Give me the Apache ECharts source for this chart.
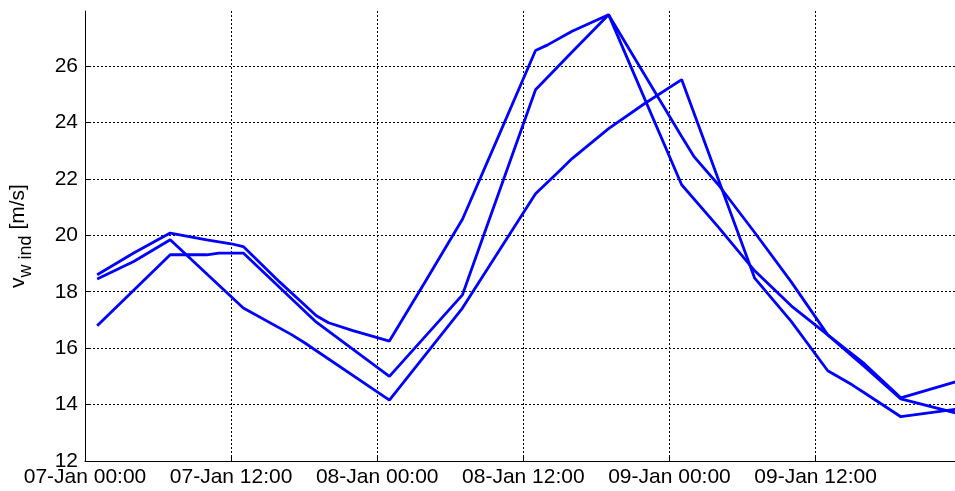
<!DOCTYPE html>
<html><head><meta charset="utf-8">
<script src="https://cdn.jsdelivr.net/npm/echarts@6/dist/echarts.min.js"></script>
<style>html,body{margin:0;padding:0;background:#fff}#c{width:955px;height:491px}</style>
</head><body><div id="c"></div>
<script>
// x values are hours after 07-Jan 00:00
const tickLabels = ['07-Jan 00:00','07-Jan 12:00','08-Jan 00:00','08-Jan 12:00','09-Jan 00:00','09-Jan 12:00','10-Jan 00:00'];

const hoursA = [1, 4, 7, 10, 12, 13, 16, 19, 20, 22, 25, 28, 31, 34, 37, 38, 40, 43, 46, 49, 52, 55, 58, 61, 64, 67, 72];
const windA  = [18.6, 19.37, 20.08, 19.84, 19.7, 19.6, 18.34, 17.15, 16.9, 16.62, 16.25, 18.4, 20.57, 23.55, 26.55, 26.75, 27.23, 27.82, 24.8, 21.79, 20.3, 18.74, 17.5, 16.47, 15.45, 14.24, 14.87];

const hoursB = [1, 4, 7, 13, 17, 18, 25, 31, 37, 39, 40, 43, 46, 49, 55, 58, 61, 62, 63, 64, 67, 72];
const windB  = [18.45, 19.07, 19.84, 17.42, 16.47, 16.2, 14.16, 17.42, 21.47, 22.3, 22.72, 23.78, 24.68, 25.52, 18.48, 16.95, 15.2, 14.95, 14.7, 14.42, 13.57, 13.86];

const hoursC = [1, 4, 7, 10, 11, 13, 19, 25, 31, 37, 40, 43, 49, 50, 52, 55, 58, 61, 64, 67, 72];
const windC  = [16.79, 18.05, 19.31, 19.31, 19.37, 19.37, 16.92, 15.0, 17.89, 25.16, 26.5, 27.82, 23.5, 22.8, 21.8, 20.1, 18.35, 16.47, 15.35, 14.2, 13.65];

function pairs(h, v) { return h.map((x, i) => [x, v[i]]); }

const chart = echarts.init(document.getElementById('c'), null, {renderer: 'canvas'});
const font = 'Liberation Sans, Arial, sans-serif';
const gridLine = {show: true, showMinLine: false, showMaxLine: false, lineStyle: {color: '#000', type: [2, 2], width: 1}};
const lineStyle = {color: '#0000ff', width: 2.8};
function mk(h, v) {
  return {type: 'line', data: pairs(h, v), showSymbol: false, symbol: 'none', lineStyle: lineStyle, itemStyle: {color: '#0000ff'}, clip: true};
}
chart.setOption({
  animation: false,
  backgroundColor: '#fff',
  grid: {left: 85, right: 0, top: 11, bottom: 30, containLabel: false},
  xAxis: {
    type: 'value', min: 0, max: 71.45, interval: 12,
    axisLine: {show: true, onZero: false, lineStyle: {color: '#000', width: 1}},
    axisTick: {show: true, inside: true, length: 5, lineStyle: {color: '#000'}},
    axisLabel: {showMaxLabel: false, color: '#000', fontFamily: font, fontSize: 21, margin: 6,
      formatter: v => (v % 12 === 0 ? tickLabels[v / 12] : '')},
    splitLine: gridLine
  },
  yAxis: {
    type: 'value', min: 12, max: 27.95, interval: 2,
    axisLine: {show: true, onZero: false, lineStyle: {color: '#000', width: 1}},
    axisTick: {show: true, inside: true, length: 5, lineStyle: {color: '#000'}},
    axisLabel: {showMaxLabel: false, color: '#000', fontFamily: font, fontSize: 21, margin: 7,
      formatter: v => (v % 2 === 0 ? String(v) : '')},
    splitLine: gridLine,
    name: '{v|v}{s|w ind}{v| [m/s]}', nameLocation: 'middle', nameRotate: 90, nameGap: 50,
    nameTextStyle: {
      color: '#000', fontFamily: font,
      rich: {
        v: {fontSize: 21, fontFamily: font, color: '#000', padding: [0, 0, 6, 0], verticalAlign: 'bottom'},
        s: {fontSize: 18, fontFamily: font, color: '#000', verticalAlign: 'bottom'}
      }
    }
  },
  series: [mk(hoursA, windA), mk(hoursB, windB), mk(hoursC, windC)]
});
</script></body></html>
